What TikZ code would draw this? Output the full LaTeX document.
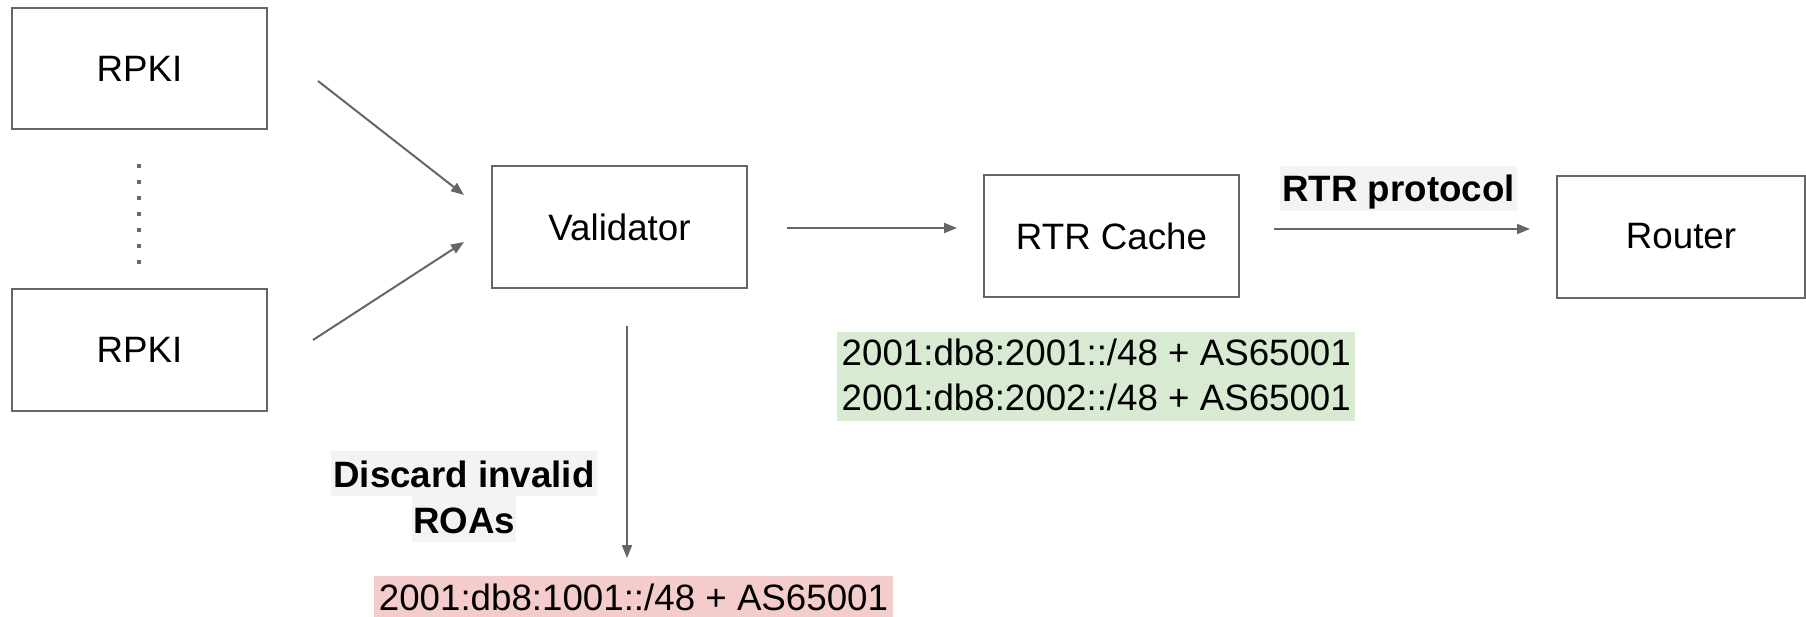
\documentclass[tikz,border=0pt]{standalone}
\usepackage{fontspec}
\setmainfont{Liberation Sans}
\usetikzlibrary{arrows.meta}
\definecolor{linegray}{HTML}{666666}
\definecolor{lblgray}{HTML}{F3F3F3}
\definecolor{okgreen}{HTML}{D9EAD3}
\definecolor{badred}{HTML}{F4CCCC}
\newcommand{\bigfont}{\fontsize{36.7}{46}\selectfont}
\begin{document}
\begin{tikzpicture}[x=1pt,y=-1pt,
  box/.style={draw=linegray, line width=2pt, minimum width=255pt, minimum height=122pt, inner sep=0pt, font=\bigfont},
  conn/.style={draw=linegray, line width=2pt, -{Triangle[length=13pt,width=10pt]}},
  tag/.style={inner sep=0pt, font=\bigfont\bfseries, fill=lblgray, text height=36pt, text depth=9pt},
  plain/.style={inner sep=0pt, font=\bigfont, anchor=base west},
]
\useasboundingbox (0,0) rectangle (1806,616);

% boxes
\node[box, minimum height=121pt] (rpkiA) at (139.5,68.5) {RPKI};
\node[box] (rpkiB) at (139.5,350) {RPKI};
\node[box] (validator) at (619.5,227) {Validator};
\node[box] (cache) at (1111.5,236) {RTR Cache};
\node[box, minimum width=248pt] (router) at (1681,236.5) {Router};

% dotted separator between the two RPKI boxes
\coordinate (dotsTop) at (139,164);
\coordinate (dotsBot) at (139,266);
\draw[linegray, line width=4pt, dash pattern=on 4pt off 12pt] (dotsTop) -- (dotsBot);

% connector end points
\coordinate (aS) at (318,81);
\coordinate (aE) at (464,195);
\coordinate (bS) at (313,340);
\coordinate (bE) at (464,242);
\coordinate (cS) at (787,228);
\coordinate (cE) at (957,228);
\coordinate (dS) at (1274,229);
\coordinate (dE) at (1530,229);
\coordinate (eS) at (627,326);
\coordinate (eE) at (627,558);

\draw[conn] (aS) -- (aE);
\draw[conn] (bS) -- (bE);
\draw[conn] (cS) -- (cE);
\draw[conn] (dS) -- (dE);
\draw[conn] (eS) -- (eE);

% labels
\node[tag, inner xsep=2.5pt] (proto) at (1398.5,188) {RTR protocol};
\node[tag, inner xsep=2.5pt] (discA) at (464,473.5) {Discard invalid};
\node[tag, inner xsep=1pt, text height=37pt] (discB) at (464,519) {ROAs};

% valid ROAs
\node[fill=okgreen, minimum width=518pt, minimum height=89pt, inner sep=0pt, anchor=north west] (okbg) at (837,332) {};
\node[plain] (okA) at (841.5,365) {2001:db8:2001::/48 + AS65001};
\node[plain] (okB) at (841.5,410) {2001:db8:2002::/48 + AS65001};

% invalid ROA
\node[fill=badred, anchor=base, text height=34pt, text depth=10pt, inner xsep=5pt, inner ysep=0pt, font=\bigfont] (bad) at (633.5,610) {2001:db8:1001::/48 + AS65001};
\end{tikzpicture}
\end{document}
